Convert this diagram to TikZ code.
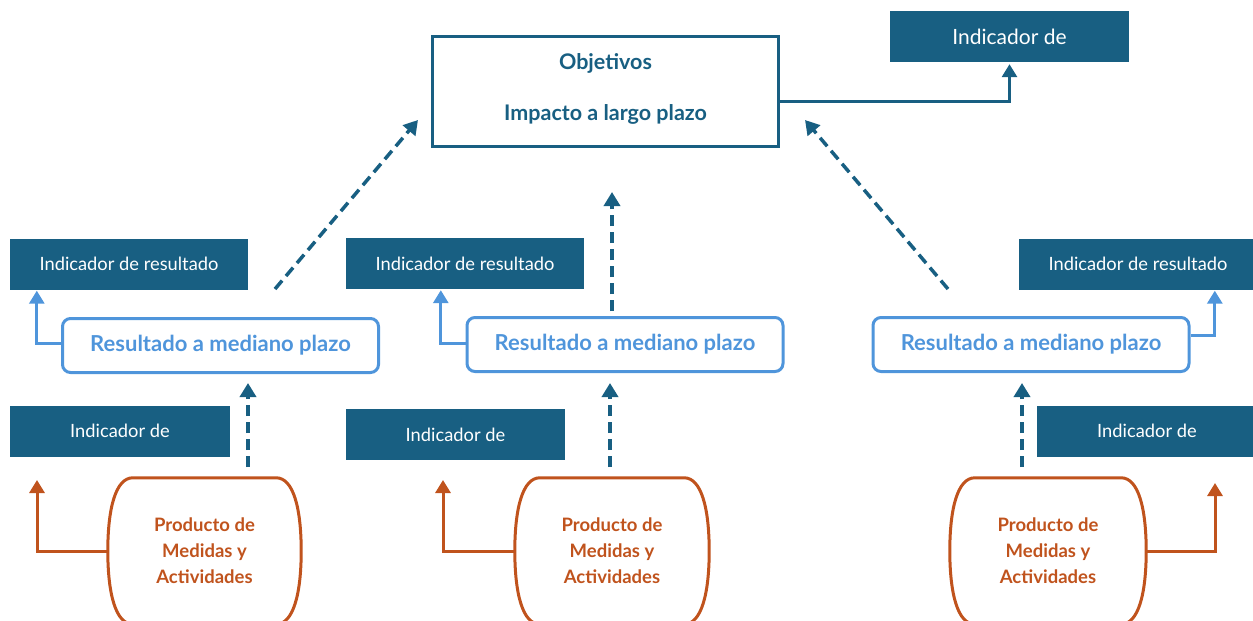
\documentclass[tikz,border=0pt]{standalone}
\usepackage{fontspec}
\setmainfont{Lato}
\usetikzlibrary{arrows.meta,calc}
\definecolor{teal1}{HTML}{185F82}
\definecolor{lblue}{HTML}{4F95DB}
\definecolor{orng}{HTML}{C0531D}
\begin{document}
\begin{tikzpicture}[x=1pt,y=-1pt,
  ind/.style={fill=teal1, text=white, font=\fontsize{18.3}{21}\selectfont, inner sep=0, minimum height=51},
  res/.style={draw=lblue, line width=3, rounded corners=8, text=lblue, font=\bfseries\fontsize{22}{26}\selectfont, minimum width=316, minimum height=54, inner sep=0},
  prod/.style={text=orng, font=\bfseries\fontsize{18.5}{26}\selectfont, align=center, minimum width=193, minimum height=146, inner sep=0},
  obj/.style={draw=teal1, line width=3, text=teal1, font=\bfseries\fontsize{21.5}{51}\selectfont, align=center, minimum width=346, minimum height=110, inner sep=0},
  tipT/.style={-{Triangle[width=15,length=13]}},
  blue arrow/.style={draw=lblue, line width=3, tipT},
  orange arrow/.style={draw=orng, line width=3, tipT},
  teal arrow/.style={draw=teal1, line width=3, tipT},
  dash arrow/.style={draw=teal1, line width=3.5, dash pattern=on 11 off 6, -{Triangle[width=16,length=14]}},
  outline/.style={draw=orng, line width=3}
]
\useasboundingbox (0,0) rectangle (1253,621);

% top
\node[obj] (obj) at (605.5,91.5) {Objetivos\\Impacto a largo plazo\rule[-9pt]{0pt}{9pt}};
\node[ind, minimum width=239, font=\fontsize{21}{24}\selectfont] (indT) at (1009.5,36.5) {Indicador de};

% indicador de resultado
\node[ind, minimum width=238] (indRL) at (129,264) {Indicador de resultado};
\node[ind, minimum width=238] (indRM) at (465,263.5) {Indicador de resultado};
\node[ind, minimum width=238] (indRR) at (1138,264) {Indicador de resultado};

% resultado a mediano plazo
\node[res] (resL) at (220.5,345.5) {Resultado a mediano plazo};
\node[res] (resM) at (625,344.5) {Resultado a mediano plazo};
\node[res] (resR) at (1031,344.5) {Resultado a mediano plazo};

% indicador de (lower)
\node[ind, minimum width=220] (indLL) at (120,431) {Indicador de};
\node[ind, minimum width=219] (indLM) at (455.5,434.5) {Indicador de};
\node[ind, minimum width=220] (indLR) at (1147,431) {Indicador de};

% productos
\node[prod] (prodL) at (204.5,551) {Producto de\\Medidas y\\Actividades};
\node[prod, minimum width=194] (prodM) at (612,551) {Producto de\\Medidas y\\Actividades};
\node[prod, minimum width=196] (prodR) at (1048,551) {Producto de\\Medidas y\\Actividades};

\foreach \n in {prodL,prodM,prodR}{
  \draw[outline] ($(\n.north west)+(25,0)$) -- ($(\n.north east)+(-25,0)$)
    .. controls ($(\n.north east)+(-8,0)$) and ($(\n.north east)+(0,30)$) .. (\n.east)
    .. controls ($(\n.south east)+(0,-30)$) and ($(\n.south east)+(-8,0)$) .. ($(\n.south east)+(-25,0)$)
    -- ($(\n.south west)+(25,0)$)
    .. controls ($(\n.south west)+(8,0)$) and ($(\n.south west)+(0,-30)$) .. (\n.west)
    .. controls ($(\n.north west)+(0,30)$) and ($(\n.north west)+(8,0)$) .. cycle;
}

% solid connectors
\draw[teal arrow] ([yshift=-10pt]obj.east) -| ([yshift=-2pt]indT.south);
\draw[blue arrow] ([yshift=2pt]resL.west) -| ([xshift=27pt,yshift=-1pt]indRL.south west);
\draw[blue arrow] ([yshift=1pt]resM.west) -| ([xshift=95pt,yshift=-1pt]indRM.south west);
\draw[blue arrow] ([yshift=9pt]resR.east) -| ([xshift=196pt,yshift=-1pt]indRR.south west);

\coordinate (oL) at (37,480);
\coordinate (oM) at (443,480);
\coordinate (oR) at (1215,483);
\draw[orange arrow] (prodL.west) -| (oL);
\draw[orange arrow] (prodM.west) -| (oM);
\draw[orange arrow] (prodR.east) -| (oR);

% dashed connectors
\coordinate (dL0) at (248,467); \coordinate (dL1) at (248,383);
\coordinate (dM0) at (610,467); \coordinate (dM1) at (610,383);
\coordinate (dR0) at (1022,467); \coordinate (dR1) at (1022,383);
\draw[dash arrow] (dL0) -- (dL1);
\draw[dash arrow] (dM0) -- (dM1);
\draw[dash arrow] (dR0) -- (dR1);

\coordinate (uL0) at (275,289); \coordinate (uL1) at (418,120);
\coordinate (uM0) at (612,311); \coordinate (uM1) at (612,192);
\coordinate (uR0) at (948,289); \coordinate (uR1) at (805,120);
\draw[dash arrow] (uL0) -- (uL1);
\draw[dash arrow] (uM0) -- (uM1);
\draw[dash arrow] (uR0) -- (uR1);
\end{tikzpicture}
\end{document}
